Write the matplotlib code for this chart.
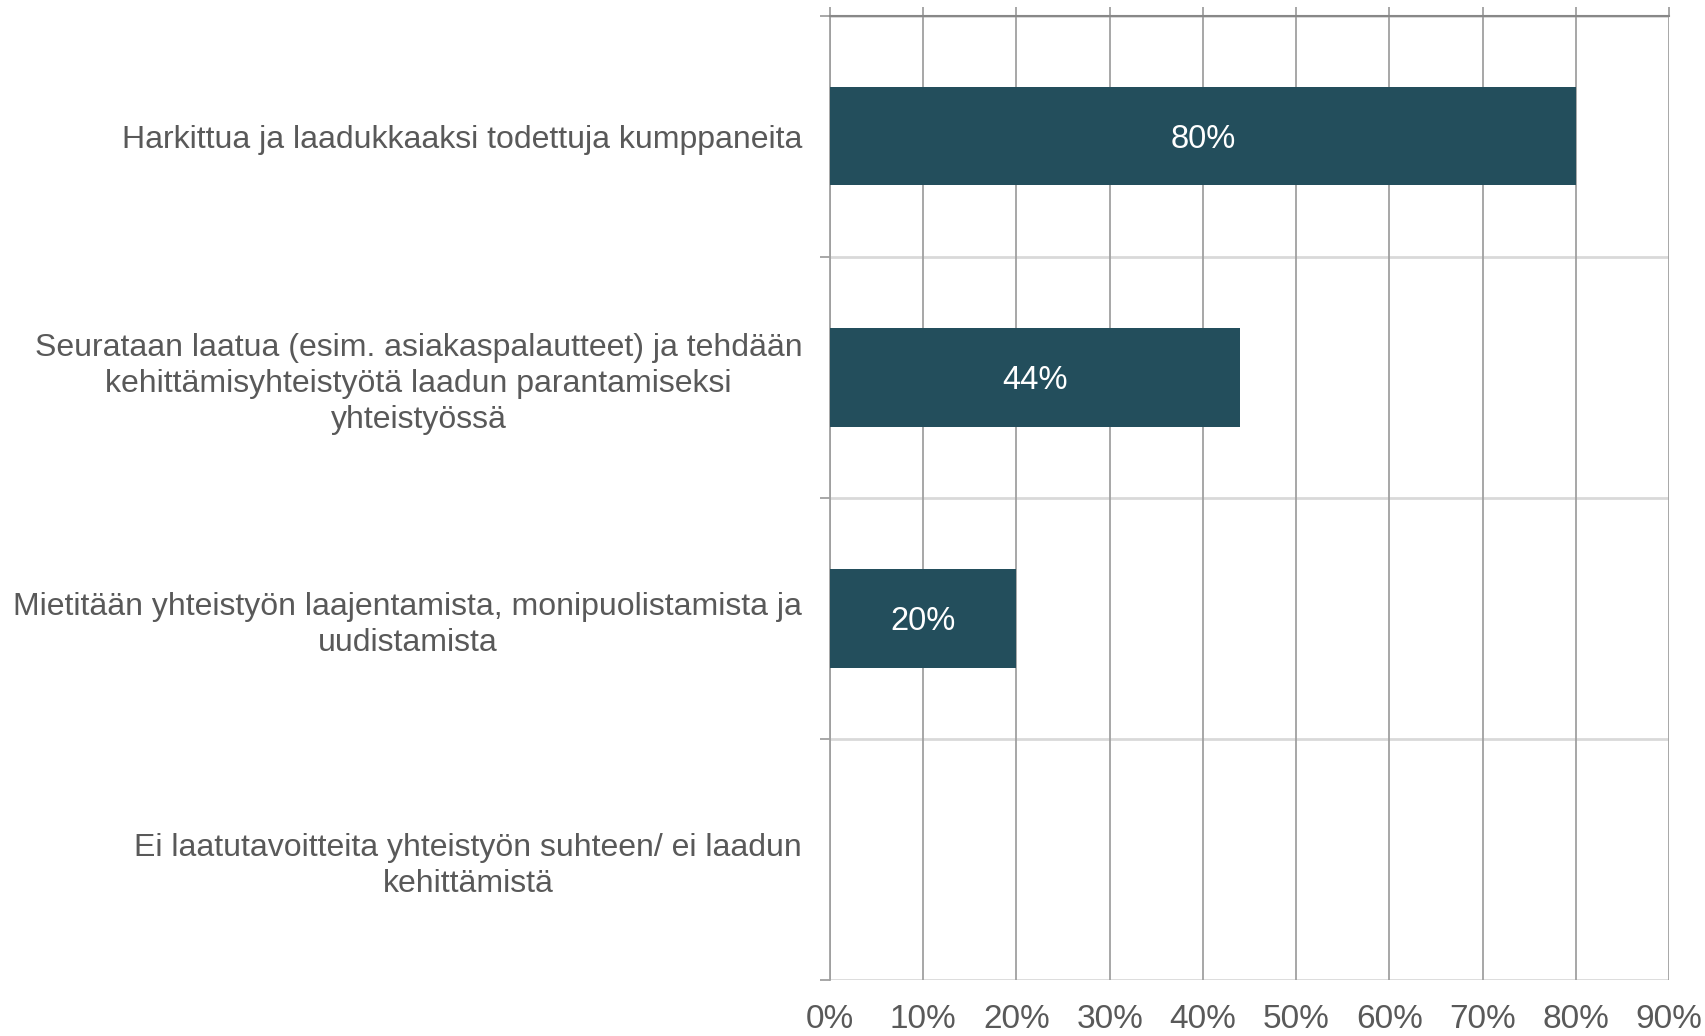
import numpy as np
import matplotlib
matplotlib.use("Agg")
import matplotlib.pyplot as plt
from matplotlib.ticker import FixedLocator, PercentFormatter

# ---- data -----------------------------------------------------------------
categories = [
    "Harkittua ja laadukkaaksi todettuja kumppaneita",
    "Seurataan laatua (esim. asiakaspalautteet) ja tehdään\n"
    "kehittämisyhteistyötä laadun parantamiseksi\nyhteistyössä",
    "Mietitään yhteistyön laajentamista, monipuolistamista ja\nuudistamista",
    "Ei laatutavoitteita yhteistyön suhteen/ ei laadun\nkehittämistä",
]
values = [80, 44, 20, 0]
xticks = [0, 10, 20, 30, 40, 50, 60, 70, 80, 90]

BAR = "#234e5c"
TEXT = "#595959"
GRID = "#a0a0a0"
SEP = "#d9d9d9"

plt.rcParams["font.family"] = ["Liberation Sans", "DejaVu Sans"]

fig = plt.figure(figsize=(17.06, 10.36), dpi=100)
ax = fig.add_axes([830 / 1706, 1 - 980 / 1036, 839 / 1706, 964.5 / 1036])

y = np.arange(len(categories))
bars = ax.barh(y, values, height=0.41, color=BAR, zorder=3)
for b, v in zip(bars, values):
    if v > 0:
        ax.text(v / 2, b.get_y() + b.get_height() / 2, f"{v}%",
                ha="center", va="center_baseline", color="white",
                fontsize=23.5, zorder=4)

ax.set_xlim(0, 90)
ax.set_ylim(len(categories) - 0.5, -0.5)

# value axis: grid + ticks on top, labels at bottom
ax.set_xticks(xticks)
ax.xaxis.set_major_formatter(PercentFormatter(decimals=0))
ax.xaxis.grid(True, color=GRID, lw=1.3, zorder=1)
ax.tick_params(axis="x", which="major", top=True, bottom=False, direction="out",
               length=6.5, width=1.3, color=GRID, labelsize=24, labelcolor=TEXT,
               pad=11)

# category separators
for yy in np.arange(-0.5, len(categories), 1.0):
    ax.axhline(yy, color=SEP, lw=2, zorder=1)
ax.set_yticks(y)
ax.set_yticklabels(categories)
ax.yaxis.set_minor_locator(FixedLocator(np.arange(-0.5, len(categories), 1.0)))
ax.tick_params(axis="y", which="major", length=0, labelsize=23, labelcolor=TEXT, pad=20)
ax.tick_params(axis="y", which="minor", length=7, width=1.3, color=GRID)
for t in ax.get_yticklabels():
    t.set_multialignment("center")
    t.set_linespacing(1.27)

for s in ["bottom", "right"]:
    ax.spines[s].set_visible(False)
ax.spines["top"].set_color("#888888")
ax.spines["top"].set_linewidth(1.5)
ax.spines["left"].set_color(GRID)
ax.spines["left"].set_linewidth(1.3)

fig.savefig("out.png", dpi=100)
